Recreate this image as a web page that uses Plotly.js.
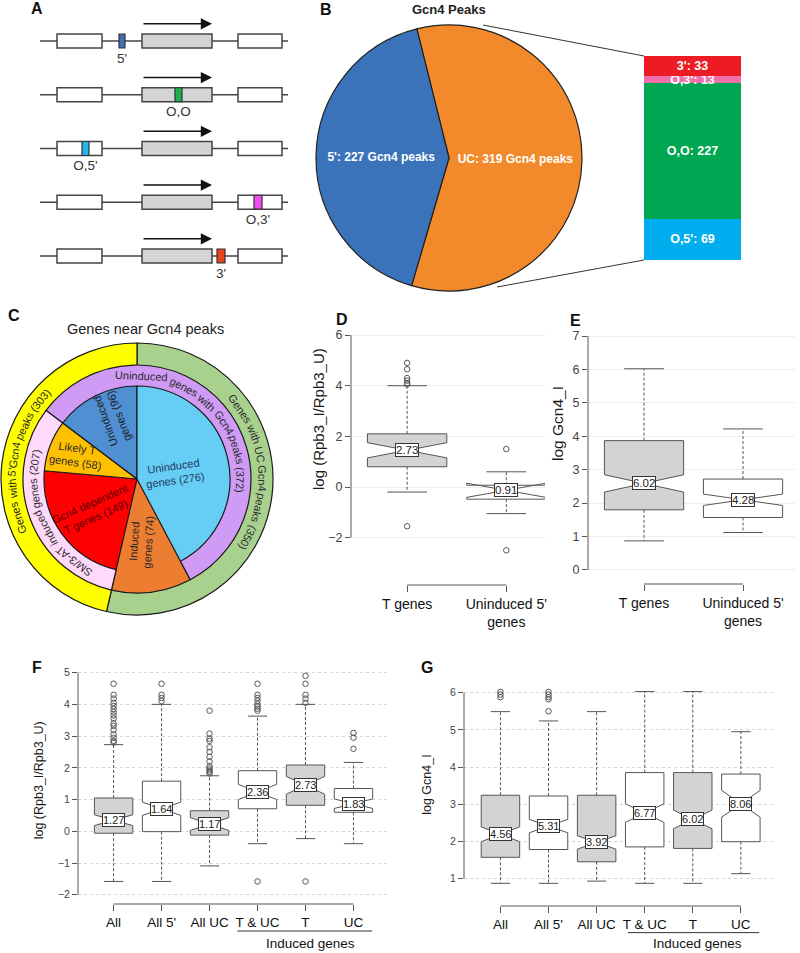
<!DOCTYPE html>
<html>
<head>
<meta charset="utf-8">
<script src="https://cdn.plot.ly/plotly-3.0.1.min.js"></script>
<style>
  body { margin: 0; background: #fff; }
  #page { position: relative; width: 800px; height: 953px; overflow: hidden; }
  .panel { position: absolute; }
</style>
</head>
<body>
<div id="page">
  <div id="panelA" class="panel" style="left:0;top:0;width:300px;height:290px"></div>
  <div id="panelB" class="panel" style="left:250px;top:0;width:550px;height:300px"></div>
  <div id="panelC" class="panel" style="left:0;top:300px;width:290px;height:330px"></div>
  <div id="panelE" class="panel" style="left:545px;top:300px;width:255px;height:340px"></div>
  <div id="panelD" class="panel" style="left:300px;top:300px;width:270px;height:340px"></div>
  <div id="panelF" class="panel" style="left:0;top:640px;width:400px;height:313px"></div>
  <div id="panelG" class="panel" style="left:400px;top:640px;width:400px;height:313px"></div>
</div>
<script>
'use strict';

const FONT = 'Liberation Sans, Arial, sans-serif';

// ---- A: peak classes on a schematic locus (arbitrary locus units) ----
const locusSpan = [40, 288];
const flankExons = [[57, 102], [238, 282]];
const geneBody = [142, 212];
const peakClass = ["5'", "O,O", "O,5'", "O,3'", "3'"];
const peakStart = [119, 175, 82, 254, 217];
const peakEnd = [125, 182, 89, 262, 225];
const peakColor = ['#3f6fb6', '#1db34a', '#22b5ea', '#f14df0', '#e84419'];

// ---- B: Gcn4 peaks ----
const pieLabels = ["UC", "5'"];
const pieValues = [319, 227];
const pieColors = ['#f28a2b', '#3b73ba'];
const ucParts = ["O,5'", "O,O", "O,3'", "3'"];
const ucCounts = [69, 227, 13, 33];
const ucColors = ['#00aeef', '#00a651', '#f06eaa', '#ed1c24'];

// ---- C: genes near Gcn4 peaks (clockwise order) ----
const outerLabels = ["Genes with UC Gcn4 peaks (350)", "Genes with 5'Gcn4 peaks (303)"];
const outerValues = [350, 303];
const outerColors = ['#a9d18e', '#ffff00'];
const middleLabels = ["Induced genes (74)", "SM/3-AT induced genes (207)", "Uninduced genes with Gcn4 peaks (372)"];
const middleValues = [74, 207, 372];
const middleColors = ['#ed7d31', '#ffd9fb', '#cf9bf5'];
const innerLabels = ["Induced genes (74)", "Gcn4 dependent T genes (149)", "Likely T genes (58)", "Uninduced genes (96)", "Uninduced genes (276)"];
const innerValues = [74, 149, 58, 96, 276];
const innerColors = ['#ed7d31', '#ff0000', '#ffc000', '#4f8fd2', '#66cdf5'];

// ---- D / E ----
const deCats = ["T genes", "Uninduced 5'<br>genes"];
const dQ1 = [0.8, -0.48];
const dMed = [1.45, -0.13];
const dQ3 = [2.1, 0.07];
const dLow = [-0.2, -1.05];
const dHigh = [4.0, 0.6];
const dNotch = [0.3, 0.28];
const dOut = [[4.9, 4.65, 4.3, 4.2, 4.1, 4.05, -1.55], [1.5, -2.5]];
const dLabels = ["2.73", "0.91"];

const eQ1 = [1.8, 1.57];
const eMed = [2.59, 2.1];
const eQ3 = [3.87, 2.72];
const eLow = [0.87, 1.12];
const eHigh = [6.02, 4.22];
const eNotch = [0.26, 0.17];
const eOut = [[], []];
const eLabels = ["6.02", "4.28"];

// ---- F / G ----
const fgCats = ["All", "All 5'", "All UC", "T & UC", "T", "UC"];
const fgFill = ['#d3d3d3', '#ffffff', '#d3d3d3', '#ffffff', '#d3d3d3', '#ffffff'];

const fQ1 = [-0.06, -0.01, -0.12, 0.71, 0.82, 0.6];
const fMed = [0.35, 0.71, 0.23, 1.24, 1.45, 0.87];
const fQ3 = [1.05, 1.58, 0.65, 1.91, 2.09, 1.35];
const fLow = [-1.58, -1.58, -1.09, -0.39, -0.23, -0.39];
const fHigh = [2.73, 4.0, 1.75, 3.63, 4.0, 2.17];
const fNotch = [0.17, 0.21, 0.2, 0.24, 0.28, 0.15];
const fOut = [
  [4.65, 4.3, 4.18, 4.05, 3.95, 3.85, 3.75, 3.65, 3.55, 3.4, 3.32, 3.2, 3.05, 2.95, 2.85, 2.8],
  [4.65, 4.3, 4.2, 4.1],
  [3.8, 3.08, 2.92, 2.85, 2.65, 2.5, 2.35, 2.2, 2.05, 1.98, 1.92, 1.87, 1.82],
  [4.65, 4.3, 4.2, 4.1, 4.0, 3.93, 3.86, 3.8, -1.58],
  [4.9, 4.65, 4.3, 4.18, 4.05, -1.58],
  [3.1, 2.95, 2.6]
];
const fLabels = ["1.27", "1.64", "1.17", "2.36", "2.73", "1.83"];

const gQ1 = [1.57, 1.78, 1.45, 1.85, 1.81, 1.99];
const gMed = [2.19, 2.41, 1.97, 2.76, 2.59, 3.01];
const gQ3 = [3.24, 3.22, 3.24, 3.85, 3.85, 3.81];
const gLow = [0.87, 0.87, 0.93, 0.87, 0.87, 1.13];
const gHigh = [5.49, 5.24, 5.49, 6.03, 6.03, 4.95];
const gNotch = [0.2, 0.18, 0.18, 0.25, 0.25, 0.36];
const gOut = [[6.02, 5.95, 5.88], [6.02, 5.95, 5.88, 5.82, 5.5], [], [], [], []];
const gLabels = ["4.56", "5.31", "3.92", "6.77", "6.02", "8.06"];

const cfg = {displayModeBar: false, staticPlot: true};

function paperOf(g, x, y) {
  const pw = g.W - g.l - g.r, ph = g.H - g.t - g.b;
  return {x: (x - g.l) / pw, y: 1 - (y - g.t) / ph};
}

function textAnn(g, text, x, y, size, extra) {
  const p = paperOf(g, x, y);
  return Object.assign({xref: 'paper', yref: 'paper', x: p.x, y: p.y, text: text, showarrow: false,
    xanchor: 'center', yanchor: 'middle', font: {family: FONT, size: size, color: '#1a1a1a'}}, extra || {});
}

function letter(g, ch, x, y) {
  return textAnn(g, ch, x, y, 16, {font: {family: FONT, size: 16, color: '#111', weight: 'bold'}});
}

// ---------------- A ----------------
function drawA() {
  const g = {W: 300, H: 290, l: 0, t: 0, r: 0, b: 0};
  const half = 0.13;
  const shapes = [];
  const arrows = [];
  peakClass.forEach((c, r) => {
    shapes.push({type: 'line', x0: locusSpan[0], x1: locusSpan[1], y0: r, y1: r, line: {color: '#444', width: 1.5}});
    flankExons.forEach(e => shapes.push({type: 'rect', x0: e[0], x1: e[1], y0: r - half, y1: r + half,
      fillcolor: '#fff', line: {color: '#444', width: 1.5}}));
    shapes.push({type: 'rect', x0: geneBody[0], x1: geneBody[1], y0: r - half, y1: r + half,
      fillcolor: '#d4d4d4', line: {color: '#444', width: 1.5}});
    shapes.push({type: 'rect', x0: peakStart[r], x1: peakEnd[r], y0: r - half, y1: r + half,
      fillcolor: peakColor[r], line: {color: '#333', width: 1.2}});
    arrows.push({x: geneBody[1], y: r - 0.32, ax: geneBody[0], ay: r - 0.32, xref: 'x', yref: 'y',
      axref: 'x', ayref: 'y', text: '', showarrow: true, arrowhead: 2, arrowsize: 1.6, arrowwidth: 1.4,
      arrowcolor: '#111', standoff: 0});
  });
  arrows.push(letter(g, 'A', 37, 9));
  const labels = {
    type: 'scatter', mode: 'text',
    x: peakClass.map((c, i) => (peakStart[i] + peakEnd[i]) / 2),
    y: peakClass.map((c, i) => i + 0.34),
    text: peakClass,
    textfont: {family: FONT, size: 13.5, color: '#333'},
    hoverinfo: 'skip', showlegend: false
  };
  Plotly.newPlot('panelA', [labels], {
    width: g.W, height: g.H, margin: {l: 0, r: 0, t: 0, b: 0},
    paper_bgcolor: 'rgba(0,0,0,0)', plot_bgcolor: 'rgba(0,0,0,0)',
    xaxis: {range: [0, 300], visible: false},
    yaxis: {range: [4.633, -0.763], visible: false},
    shapes: shapes, annotations: arrows, showlegend: false
  }, cfg);
}

// ---------------- B ----------------
function drawB() {
  const g = {W: 550, H: 300, l: 0, t: 0, r: 0, b: 0};
  const cx = 199, cy = 158, rad = 133;
  const traces = [{
    type: 'pie', values: pieValues, labels: pieLabels,
    text: pieLabels.map((l, i) => l + ': ' + pieValues[i] + ' Gcn4 peaks'),
    textinfo: 'text', textposition: 'inside', insidetextorientation: 'horizontal',
    sort: false, direction: 'clockwise', rotation: -14,
    marker: {colors: pieColors, line: {color: '#222', width: 1.2}},
    textfont: {family: FONT, color: '#fff', size: 12, weight: 'bold'},
    domain: {x: [(cx - rad) / g.W, (cx + rad) / g.W], y: [1 - (cy + rad) / g.H, 1 - (cy - rad) / g.H]},
    hoverinfo: 'none', showlegend: false
  }];
  ucParts.forEach((p, i) => traces.push({
    type: 'bar', x: [0], y: [ucCounts[i]], width: 1,
    marker: {color: ucColors[i], line: {width: 0}},
    text: [p + ': ' + ucCounts[i]], textposition: 'inside', insidetextanchor: 'middle',
    constraintext: 'none', textfont: {family: FONT, color: '#fff', size: 12.5, weight: 'bold'},
    hoverinfo: 'skip', showlegend: false
  }));
  const line = (x0, y0, x1, y1) => ({type: 'line', xref: 'paper', yref: 'paper',
    x0: x0 / g.W, y0: 1 - y0 / g.H, x1: x1 / g.W, y1: 1 - y1 / g.H, line: {color: '#333', width: 1}});
  Plotly.newPlot('panelB', traces, {
    width: g.W, height: g.H, margin: {l: 0, r: 0, t: 0, b: 0},
    paper_bgcolor: 'rgba(0,0,0,0)', plot_bgcolor: 'rgba(0,0,0,0)',
    barmode: 'stack', bargap: 0, showlegend: false,
    xaxis: {domain: [394 / 550, 491 / 550], range: [-0.5, 0.5], visible: false},
    yaxis: {domain: [1 - 260 / 300, 1 - 56 / 300], range: [0, 342], visible: false},
    shapes: [line(233, 25, 394, 56), line(247, 287, 394, 260)],
    annotations: [
      letter(g, 'B', 76, 9),
      textAnn(g, 'Gcn4 Peaks', 199, 9, 13, {font: {family: FONT, size: 13, color: '#222', weight: 'bold'}})
    ]
  }, cfg);
}

// ---------------- C ----------------
function drawC() {
  const g = {W: 290, H: 330, l: 0, t: 0, r: 0, b: 0};
  const c = {x: 137, y: 179};
  const R = [136, 114, 93];
  const dom = r => ({x: [(c.x - r) / g.W, (c.x + r) / g.W], y: [1 - (c.y + r) / g.H, 1 - (c.y - r) / g.H]});
  const sum = a => a.reduce((s, v) => s + v, 0);
  const startAt = 360 * innerValues[4] / sum(innerValues);
  const ring = (values, labels, colors, r, rot, widths) => ({
    type: 'pie', values: values, labels: labels, sort: false, direction: 'clockwise', rotation: rot,
    textinfo: 'none', hoverinfo: 'none', showlegend: false,
    marker: {colors: colors, line: {color: '#1a1a1a', width: widths}}, domain: dom(r)
  });
  const traces = [
    ring(outerValues, outerLabels.map(s => 'o ' + s), outerColors, R[0], 0, 1.2),
    ring(middleValues, middleLabels.map(s => 'm ' + s), middleColors, R[1], startAt, 1.2),
    ring(innerValues, innerLabels.map((s, i) => 'i' + i + ' ' + s), innerColors, R[2], startAt, [0, 1.2, 1.2, 1.2, 1.2])
  ];

  const canvas = document.createElement('canvas');
  const ctx = canvas.getContext('2d');
  function arcWords(text, phiC, r, size, color) {
    ctx.font = size + 'px "Liberation Sans"';
    const words = text.split(' ');
    const sp = ctx.measureText(' ').width;
    const ws = words.map(w => ctx.measureText(w).width);
    const total = ws.reduce((a, b) => a + b, 0) + sp * (words.length - 1);
    let s = -total / 2;
    return words.map((w, k) => {
      const mid = s + ws[k] / 2;
      s += ws[k] + sp;
      let phi = phiC + mid / r * 180 / Math.PI;
      const rad = phi * Math.PI / 180;
      const px = c.x + r * Math.sin(rad), py = c.y - r * Math.cos(rad);
      phi = ((phi + 180) % 360 + 360) % 360 - 180;
      return {xref: 'paper', yref: 'paper', x: px / g.W, y: 1 - py / g.H, text: w, textangle: phi,
        showarrow: false, xanchor: 'center', yanchor: 'middle', font: {family: FONT, size: size, color: color}};
    });
  }
  const midR = (R[1] + R[2]) / 2, outR = (R[0] + R[1]) / 2;
  let anns = [];
  anns = anns.concat(arcWords(middleLabels[2], 43, midR, 11, '#2b2b2b'));
  anns = anns.concat(arcWords(middleLabels[1], 246, midR, 11, '#2b2b2b'));
  anns = anns.concat(arcWords(outerLabels[0], 86, outR, 11, '#2b2b2b'));
  anns = anns.concat(arcWords(outerLabels[1], 280, outR, 11, '#2b2b2b'));

  const inner = [
    {t: 'Uninduced<br>genes (276)', dx: 37, dy: -6, a: -8, col: '#1f3b5c'},
    {t: 'Induced<br>genes (74)', dx: 4, dy: 63, a: -86, col: '#2b2b2b'},
    {t: 'Gcn4 dependent<br>T genes (149)', dx: -44, dy: 31, a: -24, col: '#5a0000'},
    {t: 'Likely T<br>genes (58)', dx: -61, dy: -24, a: 8, col: '#2b2b2b'},
    {t: 'Uninduced<br>genes (96)', dx: -25, dy: -60, a: -110, col: '#1a1a1a'}
  ];
  inner.forEach(o => anns.push({xref: 'paper', yref: 'paper', x: (c.x + o.dx) / g.W, y: 1 - (c.y + o.dy) / g.H,
    text: o.t, textangle: o.a, showarrow: false, xanchor: 'center', yanchor: 'middle',
    font: {family: FONT, size: 11, color: o.col}}));
  anns.push(letter(g, 'C', 14, 16));
  anns.push(textAnn(g, 'Genes near Gcn4 peaks', 145, 29, 14.5, {font: {family: FONT, size: 14.5, color: '#222'}}));

  Plotly.newPlot('panelC', traces, {
    width: g.W, height: g.H, margin: {l: 0, r: 0, t: 0, b: 0},
    paper_bgcolor: 'rgba(0,0,0,0)', showlegend: false, annotations: anns
  }, cfg);
}

// ---------------- box panels ----------------
function boxPanel(id, g, d) {
  const idx = d.cats.map((_, i) => i);
  const traces = idx.map(i => ({
    type: 'box', x: [i], q1: [d.q1[i]], median: [d.med[i]], q3: [d.q3[i]],
    lowerfence: [d.q1[i]], upperfence: [d.q3[i]], notched: true, notchspan: [d.notch[i]],
    notchwidth: 0.5, width: 0.8, whiskerwidth: 0, boxpoints: false,
    fillcolor: d.fill[i], line: {color: '#555', width: 1}, hoverinfo: 'skip', showlegend: false
  }));
  const wx = [], wy = [], cx = [], cy = [], ox = [], oy = [];
  idx.forEach(i => {
    wx.push(i, i, null, i, i, null);
    wy.push(d.q3[i], d.high[i], null, d.q1[i], d.low[i], null);
    cx.push(i - 0.2, i + 0.2, null, i - 0.2, i + 0.2, null);
    cy.push(d.high[i], d.high[i], null, d.low[i], d.low[i], null);
    d.out[i].forEach(v => { ox.push(i); oy.push(v); });
  });
  traces.push({type: 'scatter', mode: 'lines', x: wx, y: wy, line: {color: '#555', width: 1, dash: '3px,2px'},
    hoverinfo: 'skip', showlegend: false});
  traces.push({type: 'scatter', mode: 'lines', x: cx, y: cy, line: {color: '#555', width: 1},
    hoverinfo: 'skip', showlegend: false});
  traces.push({type: 'scatter', mode: 'markers', x: ox, y: oy,
    marker: {symbol: 'circle-open', size: 5.5, color: '#555', line: {width: 1}}, hoverinfo: 'skip', showlegend: false});

  const ph = g.H - g.t - g.b;
  const shapes = [
    {type: 'line', xref: 'paper', yref: 'y', x0: 0, x1: 0, y0: d.yTicks[0], y1: d.yTicks[d.yTicks.length - 1],
      line: {color: '#555', width: 1}},
    {type: 'line', xref: 'x', yref: 'paper', x0: 0, x1: idx.length - 1, y0: 0, y1: 0, line: {color: '#555', width: 1}}
  ];
  const anns = idx.map(i => ({x: i, y: d.med[i], xref: 'x', yref: 'y', text: d.labels[i], showarrow: false,
    bgcolor: '#fff', bordercolor: '#333', borderwidth: 1, borderpad: 0,
    font: {family: FONT, size: g.labelSize, color: '#222'}}));
  anns.push(letter(g, g.letter[0], g.letter[1], g.letter[2]));
  anns.push(textAnn(g, d.title, g.title[0], g.title[1], g.titleSize,
    {textangle: -90, font: {family: FONT, size: g.titleSize, color: '#1a1a1a'}}));
  if (g.induced) {
    const yy = -g.induced.dy / ph;
    shapes.push({type: 'line', xref: 'x', yref: 'paper', x0: g.induced.x0, x1: g.induced.x1, y0: yy, y1: yy,
      line: {color: '#333', width: 1}});
    anns.push(textAnn(g, 'Induced genes', g.induced.lx, g.induced.ly, 13.5,
      {font: {family: FONT, size: 13.5, color: '#111'}}));
  }
  Plotly.newPlot(id, traces, {
    width: g.W, height: g.H, margin: {l: g.l, r: g.r, t: g.t, b: g.b},
    paper_bgcolor: 'rgba(0,0,0,0)', plot_bgcolor: 'rgba(0,0,0,0)', showlegend: false, boxmode: 'overlay',
    font: {family: FONT, color: '#222'},
    xaxis: {range: g.xRange, tickvals: idx, ticktext: d.cats, ticks: 'outside', ticklen: 6, tickcolor: '#555',
      ticklabeloverflow: 'allow', showline: false, showgrid: false, zeroline: false,
      tickfont: {family: FONT, size: g.catSize, color: '#111'}},
    yaxis: {range: g.yRange, tickvals: d.yTicks, ticks: 'outside', ticklen: 5, tickcolor: '#555',
      showline: false, showgrid: true, gridcolor: g.grid, griddash: g.gridDash, gridwidth: 1, zeroline: false,
      tickfont: {family: FONT, size: g.tickSize, color: '#444'}},
    shapes: shapes, annotations: anns
  }, cfg);
}

drawA();
drawB();
drawC();

boxPanel('panelE',
  {W: 255, H: 340, l: 43, t: 30, r: 5, b: 56, xRange: [-0.566, 1.525], yRange: [-0.42, 7.18],
   grid: '#eeeeee', gridDash: 'solid', tickSize: 12.5, titleSize: 15.5, labelSize: 11.5, catSize: 14,
   letter: ['E', 30, 20], title: [12, 424 - 300]},
  {cats: deCats, q1: eQ1, med: eMed, q3: eQ3, low: eLow, high: eHigh, notch: eNotch, out: eOut,
   labels: eLabels, fill: ['#d3d3d3', '#ffffff'], yTicks: [0, 1, 2, 3, 4, 5, 6, 7], title: 'log Gcn4_I'});

boxPanel('panelD',
  {W: 270, H: 340, l: 51, t: 30, r: 25, b: 55, xRange: [-0.566, 1.39], yRange: [-3.87, 6.2],
   grid: '#eeeeee', gridDash: 'solid', tickSize: 12.5, titleSize: 15, labelSize: 11.5, catSize: 14,
   letter: ['D', 42, 20], title: [18, 419 - 300]},
  {cats: deCats, q1: dQ1, med: dMed, q3: dQ3, low: dLow, high: dHigh, notch: dNotch, out: dOut,
   labels: dLabels, fill: ['#d3d3d3', '#ffffff'], yTicks: [-2, 0, 2, 4, 6], title: 'log (Rpb3_I/Rpb3_U)'});

boxPanel('panelF',
  {W: 400, H: 313, l: 77.7, t: 25, r: 12, b: 49, xRange: [-0.742, 5.72], yRange: [-2.29, 5.24],
   grid: '#d4d4d4', gridDash: 'dot', tickSize: 10.5, titleSize: 12.5, labelSize: 11, catSize: 13.5,
   letter: ['F', 37, 28], title: [39, 140],
   induced: {x0: 2.58, x1: 5.39, dy: 27, lx: 310, ly: 303}},
  {cats: fgCats, q1: fQ1, med: fMed, q3: fQ3, low: fLow, high: fHigh, notch: fNotch, out: fOut,
   labels: fLabels, fill: fgFill, yTicks: [-2, -1, 0, 1, 2, 3, 4, 5], title: 'log (Rpb3_I/Rpb3_U)'});

boxPanel('panelG',
  {W: 400, H: 313, l: 64.3, t: 46, r: 25, b: 47.3, xRange: [-0.758, 5.71], yRange: [0.26, 6.18],
   grid: '#d4d4d4', gridDash: 'dot', tickSize: 10.5, titleSize: 12.5, labelSize: 11, catSize: 13.5,
   letter: ['G', 27, 28], title: [27, 145],
   induced: {x0: 2.65, x1: 5.38, dy: 26.6, lx: 298, ly: 303}},
  {cats: fgCats, q1: gQ1, med: gMed, q3: gQ3, low: gLow, high: gHigh, notch: gNotch, out: gOut,
   labels: gLabels, fill: fgFill, yTicks: [1, 2, 3, 4, 5, 6], title: 'log Gcn4_I'});
</script>
</body>
</html>
